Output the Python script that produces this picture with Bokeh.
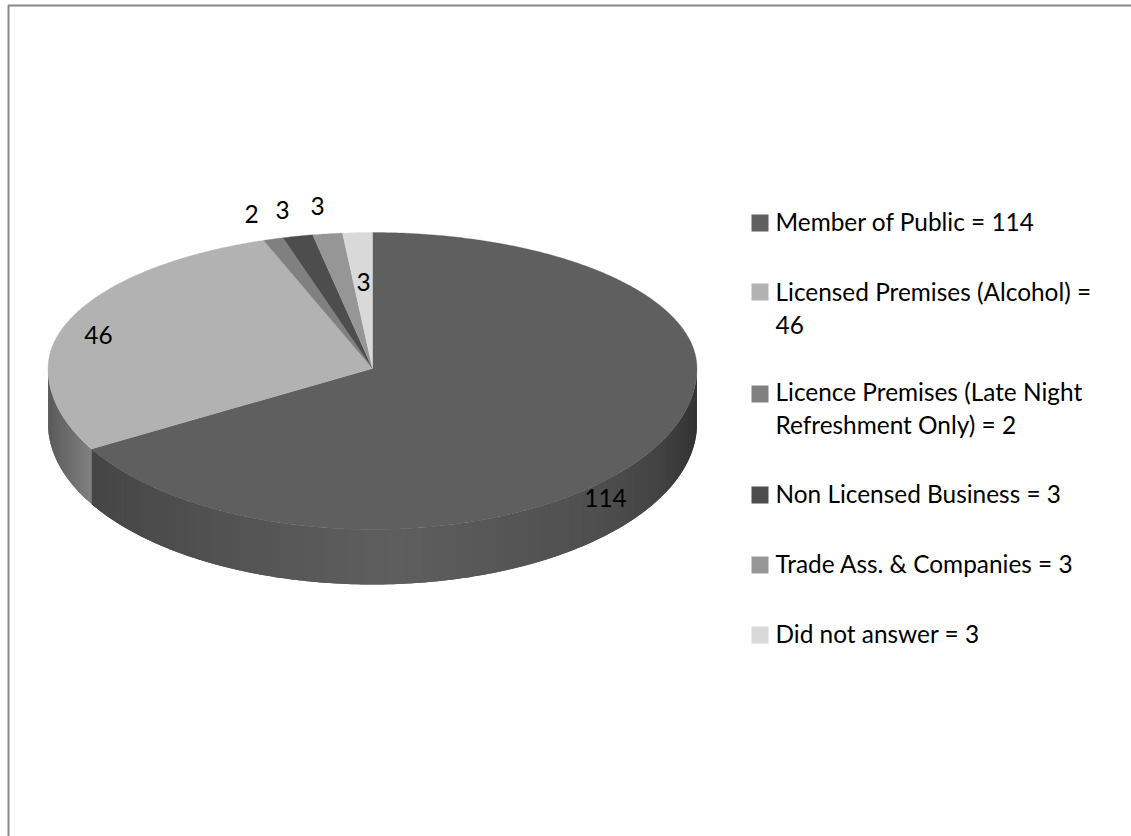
import numpy as np
from bokeh.plotting import figure
from bokeh.models import Range1d
from bokeh.core.properties import value
from bokeh.embed import file_html
from bokeh.resources import INLINE

# ---- data ----
categories = ["Member of Public", "Licensed Premises (Alcohol)",
              "Licence Premises (Late Night Refreshment Only)",
              "Non Licensed Business", "Trade Ass. & Companies", "Did not answer"]
values = [114, 46, 2, 3, 3, 3]
legend_texts = ["Member of Public = 114", "Licensed Premises (Alcohol) =\n46",
                "Licence Premises (Late Night\nRefreshment Only) = 2",
                "Non Licensed Business = 3", "Trade Ass. & Companies = 3", "Did not answer = 3"]

# ---- style / layout ----
colors = ["#5f5f5f", "#b2b2b2", "#808080", "#4d4d4d", "#969696", "#d9d9d9"]
W, H = 1131, 836
CX, CY, RX, RY_BACK, RY_FRONT, DEPTH = 372, 368, 324.5, 136, 161, 55
FONT, FS, LH = "Lato", 24.4, 32
label_xy = [(605, 497), (98, 334), (251, 213), (282, 209), (317, 205), (363, 281)]
swatch_top = [214, 283, 385, 486, 556, 626]
legend_cy = [221, 307.5, 407.5, 493, 563, 633]
SW, SX, TX = 17, 751, 775
wall_x = [[91, 200, 350, 400, 600, 660, 696], [47, 91]]
wall_g = [[0x45, 0x50, 0x5c, 0x5e, 0x4e, 0x42, 0x33], [0x5a, 0x80]]


def warp(theta):
    """clockwise-from-top angle -> angle on the drawn ellipse (back is foreshortened)."""
    s, c = np.sin(theta), np.cos(theta)
    back = c > 0
    phi = np.array(theta, dtype=float)
    f = np.arcsin(np.clip(s * (1 - 0.16 * c), -1, 1))
    phi = np.where(back & (s >= 0), f, phi)
    phi = np.where(back & (s < 0), 2 * np.pi + f, phi)
    return phi


def ell(phi, dy=0.0):
    c = np.cos(phi)
    y = np.where(c > 0, -RY_BACK * c, -RY_FRONT * c)
    return CX + RX * np.sin(phi), CY + y + dy


p = figure(width=W, height=H, x_range=Range1d(0, W), y_range=Range1d(H, 0),
           x_axis_type=None, y_axis_type=None, toolbar_location=None,
           output_backend="svg", min_border=0, outline_line_color=None,
           background_fill_color="white", border_fill_color="white")
p.grid.visible = False
p.styles = {"position": "absolute", "left": "0px", "top": "0px"}

# chart frame
p.line([8, 8, W], [H, 5, 5], line_color="#888888", line_width=2)

edges = np.concatenate([[0], np.cumsum(values)]) / np.sum(values) * 2 * np.pi

# outer wall, only the part that faces the viewer; each band runs under the next one
for i in range(2):
    a0, a1 = max(edges[i], np.pi / 2), min(edges[i + 1], 3 * np.pi / 2)
    n = int((a1 - a0) / np.radians(1.5)) + 1
    grid = np.linspace(a0, a1, n + 1)
    xs, ys, cols = [], [], []
    for k in range(n):
        seg = np.linspace(grid[k], a1 if k + 2 > n else grid[k + 2], 6)
        tx, ty = ell(seg)
        bx, by = ell(seg, DEPTH)
        xs.append(np.r_[tx, bx[::-1]])
        ys.append(np.r_[ty, by[::-1]])
        g = int(round(np.interp(ell(grid[k:k + 2])[0].mean(), wall_x[i], wall_g[i])))
        cols.append(f"#{g:02x}{g:02x}{g:02x}")
    p.patches(xs, ys, fill_color=cols, line_color=None)

# top face
for i, col in enumerate(colors):
    th = np.linspace(edges[i], edges[i + 1], max(8, int((edges[i + 1] - edges[i]) / np.radians(0.5))))
    x, y = ell(warp(th))
    p.patch(np.r_[CX, x], np.r_[CY, y], fill_color=col, line_color=col, line_width=0.3)

# data labels
p.text([q[0] for q in label_xy], [q[1] for q in label_xy], text=[str(v) for v in values],
       text_font=value(FONT), text_font_size=f"{FS}px", text_color="#000000",
       text_align="center", text_baseline="middle")

# legend
p.quad(left=[SX] * 6, right=[SX + SW] * 6, top=swatch_top, bottom=[t + SW for t in swatch_top],
       fill_color=colors, line_color=None)
p.text([TX] * 6, legend_cy, text=legend_texts, text_font=value(FONT),
       text_font_size=f"{FS}px", text_color="#000000", text_align="left",
       text_baseline="middle", text_line_height=LH / (FS * 1.15))

open("out.html", "w").write(file_html(p, INLINE))
